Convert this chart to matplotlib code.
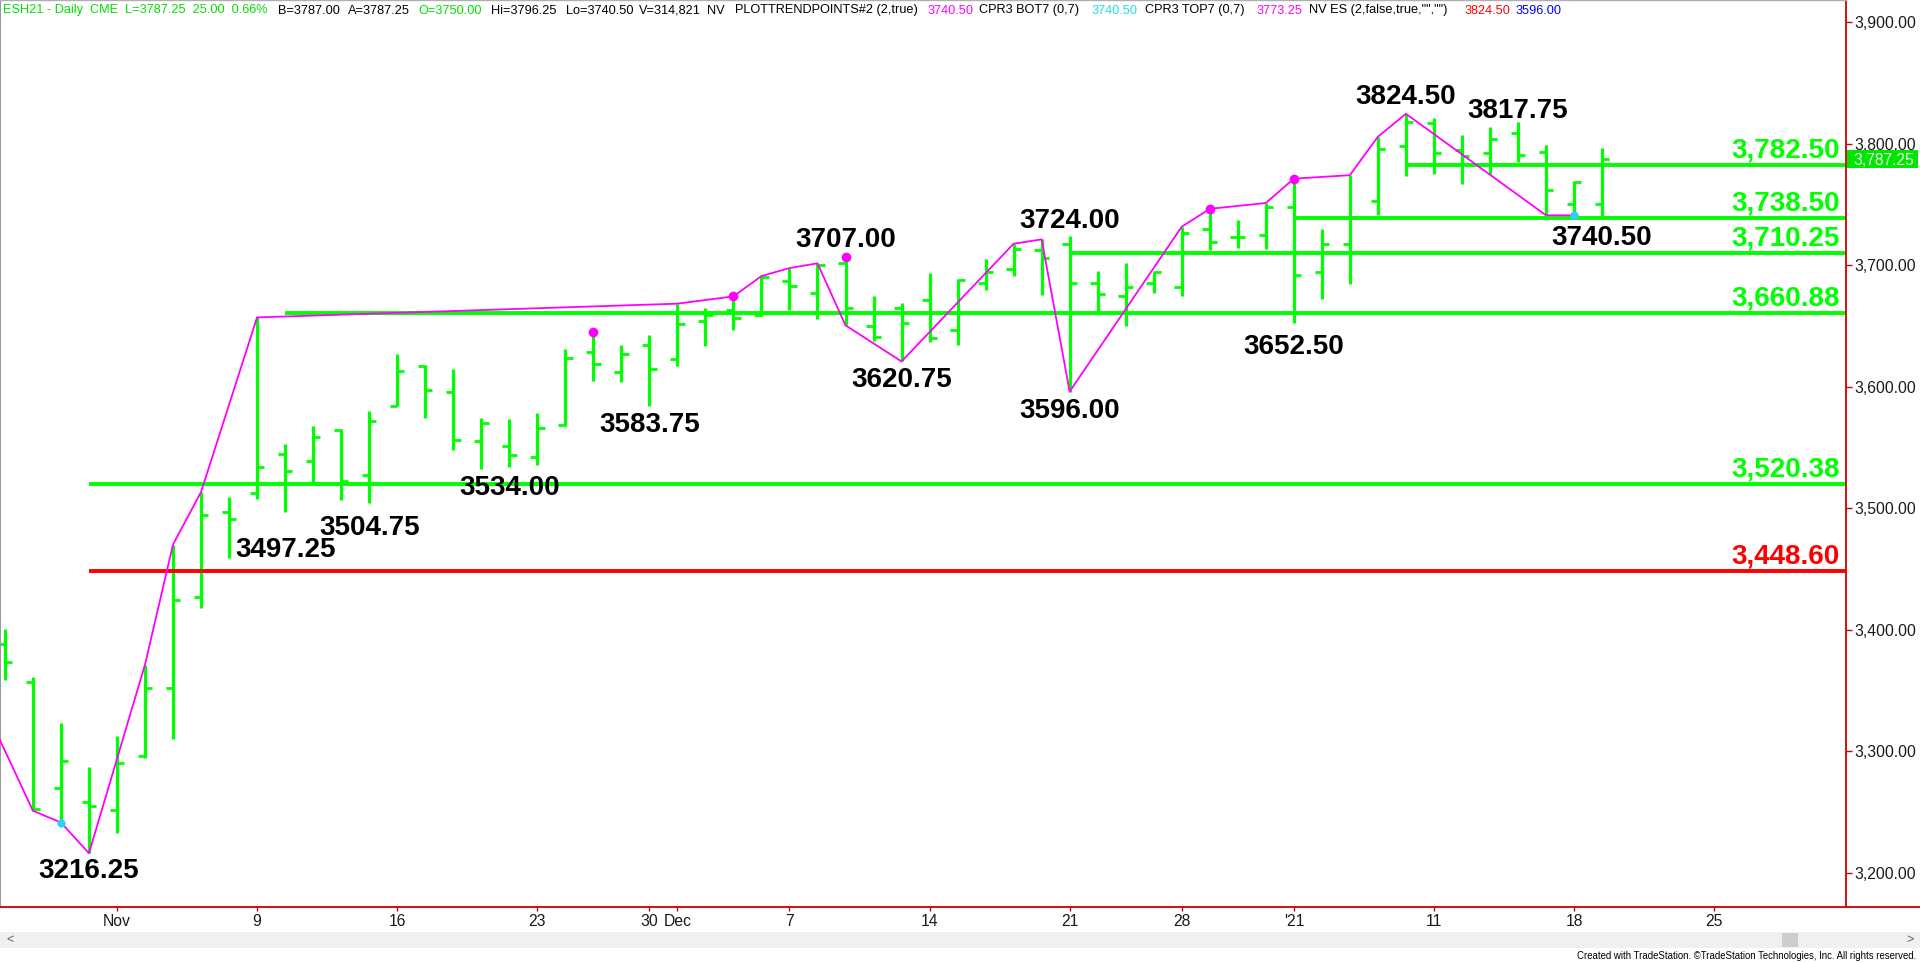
import matplotlib
matplotlib.use("Agg")
import matplotlib.pyplot as plt
from matplotlib import font_manager as fm
from matplotlib.patches import Rectangle
from matplotlib.lines import Line2D
from matplotlib import transforms as mtrans
import numpy as np

# ---------------- data ----------------
bar_dates = ["Oct 27", "Oct 28", "Oct 29", "Oct 30", "Nov 2", "Nov 3", "Nov 4", "Nov 5", "Nov 6",
             "Nov 9", "Nov 10", "Nov 11", "Nov 12", "Nov 13", "Nov 16", "Nov 17", "Nov 18", "Nov 19",
             "Nov 20", "Nov 23", "Nov 24", "Nov 25", "Nov 27", "Nov 30", "Dec 1", "Dec 2", "Dec 3",
             "Dec 4", "Dec 7", "Dec 8", "Dec 9", "Dec 10", "Dec 11", "Dec 14", "Dec 15", "Dec 16",
             "Dec 17", "Dec 18", "Dec 21", "Dec 22", "Dec 23", "Dec 24", "Dec 28", "Dec 29", "Dec 30",
             "Dec 31", "Jan 4", "Jan 5", "Jan 6", "Jan 7", "Jan 8", "Jan 11", "Jan 12", "Jan 13",
             "Jan 14", "Jan 15", "Jan 18", "Jan 19"]

opens = [3388.7, 3356.9, 3270.2, 3258.2, 3252.1, 3295.9, 3351.8, 3427.3, 3496.8, 3512.5,
         3544.5, 3538.9, 3564.5, 3527.7, 3584.5, 3617.3, 3595.4, 3555.0, 3551.2, 3542.2,
         3568.1, 3628.7, 3612.4, 3634.0, 3623.1, 3653.8, 3662.8, 3658.7, 3686.9, 3676.8,
         3702.0, 3650.0, 3664.5, 3671.5, 3646.9, 3685.0, 3697.0, 3712.4, 3717.7, 3684.9,
         3674.5, 3685.2, 3681.7, 3729.7, 3723.1, 3724.4, 3747.6, 3694.2, 3717.5, 3752.6,
         3798.0, 3817.0, 3795.0, 3792.0, 3808.3, 3792.8, 3749.9, 3750.0]
highs = [3400.7, 3360.9, 3323.1, 3286.9, 3312.5, 3371.4, 3470.2, 3513.4, 3508.9, 3657.0,
         3552.7, 3567.5, 3565.4, 3579.9, 3626.8, 3617.8, 3614.5, 3574.1, 3573.6, 3578.5,
         3630.9, 3645.1, 3634.5, 3642.3, 3668.3, 3664.7, 3674.3, 3691.0, 3697.6, 3701.5,
         3707.0, 3675.0, 3668.5, 3693.5, 3688.3, 3705.3, 3717.6, 3721.2, 3724.0, 3695.0,
         3701.7, 3695.0, 3731.6, 3746.3, 3737.2, 3751.1, 3771.1, 3729.7, 3774.0, 3805.6,
         3824.5, 3821.4, 3807.0, 3813.8, 3817.75, 3798.8, 3769.5, 3796.25]
lows = [3358.4, 3251.2, 3241.5, 3216.25, 3233.1, 3294.4, 3310.1, 3417.7, 3459.1, 3507.4,
        3497.25, 3521.1, 3507.0, 3504.75, 3584.0, 3574.4, 3547.7, 3532.7, 3534.0, 3535.9,
        3567.6, 3605.0, 3604.2, 3583.75, 3617.1, 3633.2, 3646.4, 3658.1, 3662.8, 3655.4,
        3650.5, 3637.3, 3620.75, 3636.8, 3634.6, 3679.2, 3691.3, 3675.6, 3596.0, 3662.2,
        3650.2, 3677.2, 3675.0, 3712.4, 3713.7, 3712.9, 3652.5, 3672.4, 3684.5, 3741.0,
        3773.6, 3775.2, 3767.0, 3775.2, 3784.7, 3741.0, 3741.0, 3740.5]
closes = [3373.6, 3252.7, 3292.3, 3255.1, 3290.8, 3351.8, 3424.3, 3494.7, 3490.8, 3534.0,
          3531.0, 3558.3, 3522.6, 3572.2, 3613.2, 3597.6, 3555.9, 3570.3, 3544.1, 3566.2,
          3623.3, 3618.6, 3626.8, 3614.3, 3651.8, 3659.2, 3656.5, 3690.2, 3682.8, 3700.5,
          3665.0, 3641.0, 3652.7, 3640.1, 3688.0, 3694.3, 3713.0, 3705.7, 3685.2, 3676.4,
          3681.7, 3694.2, 3726.3, 3719.1, 3723.1, 3747.6, 3691.6, 3717.7, 3740.0, 3795.3,
          3817.8, 3792.0, 3790.0, 3803.4, 3790.7, 3761.6, 3768.4, 3787.25]

tick_pos = [4, 9, 14, 19, 23, 24, 28, 33, 38, 42, 46, 51, 56, 61]
tick_labels = ["Nov", "9", "16", "23", "30", "Dec", "7", "14", "21", "28", "'21", "11", "18", "25"]

price_ticks = [3200, 3300, 3400, 3500, 3600, 3700, 3800, 3900]

level_prices = [3782.50, 3738.50, 3710.25, 3660.88, 3520.38, 3448.60]
level_start = [50, 46, 38, 10, 3, 3]
level_kind = ["g", "g", "g", "g", "g", "r"]

trend_idx = [-1, 1, 2, 3, 5, 6, 7, 9, 24, 26, 27, 28, 29, 30, 32, 36, 37, 38,
             42, 43, 45, 46, 48, 49, 50, 55, 56]
trend_price = [3350.0, 3251.2, 3241.5, 3216.25, 3371.4, 3470.2, 3513.4, 3657.0, 3668.3,
               3674.3, 3691.0, 3697.6, 3701.5, 3650.5, 3620.75, 3717.6, 3721.2, 3596.0,
               3731.6, 3746.3, 3751.1, 3771.1, 3774.0, 3805.6, 3824.5, 3741.0, 3741.0]

magenta_dot_idx = [21, 26, 30, 43, 46]
cyan_dot_idx = [2, 56]

pivot_idx = [3, 10, 13, 18, 23, 30, 32, 38, 38, 46, 50, 54, 57]
pivot_price = [3216.25, 3497.25, 3504.75, 3534.00, 3583.75, 3707.00, 3620.75, 3724.00,
               3596.00, 3652.50, 3824.50, 3817.75, 3740.50]
pivot_side = ["low", "low", "low", "low", "low", "high", "low", "high", "low", "low",
              "high", "high", "low"]

last_price = 3787.25

# ---------------- style ----------------
GREEN = "#00ff00"
RED = "#ff0000"
AXRED = "#cc0000"
MAG = "#ff00ff"
CYAN = "#33ccff"
W, H = 1920, 963
PX = 0.72  # points per pixel at dpi 100


def has_font(name):
    try:
        fm.findfont(fm.FontProperties(family=name), fallback_to_default=False)
        return True
    except Exception:
        return False


BOLD = ["Liberation Sans", "DejaVu Sans"]
REG = ["Liberation Sans", "DejaVu Sans"]
if has_font("Liberation Sans Narrow"):
    NARROW = ["Liberation Sans Narrow", "DejaVu Sans"]
    HDR_SIZE = 11.2
    CR_SIZE = 8.4
else:
    NARROW = ["Liberation Sans", "DejaVu Sans"]
    HDR_SIZE = 9.2
    CR_SIZE = 6.9

fig = plt.figure(figsize=(W / 100, H / 100), dpi=100)
fig.patch.set_facecolor("white")

AX_R, AX_B = 1846, 907
ax = fig.add_axes([0, 1 - AX_B / H, AX_R / W, AX_B / H])
ax.set_facecolor("white")

# bar i is centred at pixel 4.9 + 28.02*i ; price p at pixel 22 + (3900-p)*1.2157
x_lo = (0 - 4.9) / 28.02
x_hi = (AX_R - 4.9) / 28.02
ax.set_xlim(x_lo, x_hi)
ax.set_ylim(3900 - (AX_B - 22) / 1.2157, 3900 + 22 / 1.2157)

idx = np.arange(len(opens))
ax.vlines(idx, lows, highs, color=GREEN, lw=2.3, zorder=2)
ax.hlines(opens, idx - 0.26, idx, color=GREEN, lw=2.0, zorder=2)
ax.hlines(closes, idx, idx + 0.26, color=GREEN, lw=2.0, zorder=2)

# level lines + labels
for p, s, k in zip(level_prices, level_start, level_kind):
    c = GREEN if k == "g" else RED
    ax.hlines(p, s, x_hi, color=c, lw=2.8, zorder=2)
    ax.annotate(f"{p:,.2f}", xy=(1, p), xycoords=("axes fraction", "data"),
                xytext=(-6 * PX, 7.5 * PX), textcoords="offset points",
                ha="right", va="baseline", fontsize=20, fontweight="bold",
                family=BOLD, color=c, zorder=5)

# trend line and points
ax.plot(trend_idx, trend_price, color=MAG, lw=1.3, zorder=3)
ax.plot(magenta_dot_idx, [highs[i] for i in magenta_dot_idx], "o", color=MAG,
        ms=7, mec="none", zorder=4)
ax.plot(cyan_dot_idx, [lows[i] for i in cyan_dot_idx], "o", color=CYAN,
        ms=6, mec="none", zorder=4)

# pivot labels (pixel distance from price to visible text centre)
label_gap = [15, 35, 22, 18, 16, 20, 16, 18, 16, 21, 20, 14, 19]
for i, p, side, g in zip(pivot_idx, pivot_price, pivot_side, label_gap):
    if side == "high":
        dy = (g - 10) * PX
    else:
        dy = -(g + 10) * PX
    ax.annotate(f"{p:.2f}", xy=(i, p), xytext=(0, dy), textcoords="offset points",
                ha="center", va="baseline", fontsize=20, fontweight="bold",
                family=BOLD, color="black", zorder=6, annotation_clip=False)

# axes / ticks
ax.yaxis.tick_right()
ax.set_yticks(price_ticks)
ax.set_yticklabels([f"{v:,.2f}" for v in price_ticks])
ax.set_xticks(tick_pos)
ax.set_xticklabels(tick_labels)
ax.tick_params(axis="y", direction="out", length=4, width=1, color=AXRED,
               pad=2, labelsize=11.3, labelcolor="#1a1a1a")
ax.tick_params(axis="x", direction="out", length=3.2, width=1, color=AXRED,
               pad=1.5, labelsize=11.3, labelcolor="#1a1a1a")
for lab in ax.get_xticklabels() + ax.get_yticklabels():
    lab.set_family(REG)

ax.spines["left"].set_color("#9a9a9a")
ax.spines["left"].set_linewidth(1.5)
ax.spines["top"].set_color("#b0b0b0")
ax.spines["top"].set_linewidth(1.0)
ax.spines["right"].set_color(AXRED)
ax.spines["right"].set_linewidth(1.3)
ax.spines["bottom"].set_visible(False)

fig.add_artist(Line2D([0, 1], [1 - AX_B / H] * 2, transform=fig.transFigure,
                      color=AXRED, lw=1.3))

# last price box on the axis
bt = mtrans.blended_transform_factory(fig.transFigure, ax.transData)
fig.add_artist(Rectangle((1847 / W, last_price - 7.4), 71 / W, 14.8, transform=bt,
                         facecolor="#00e600", edgecolor="none", zorder=5))
fig.text(1853 / W, last_price, f"{last_price:,.2f}", transform=bt, ha="left",
         va="center_baseline", fontsize=11.3, family=REG, color="#e8ffe8", zorder=6)

# header line (x = left edge in pixels)
hdr = [
    ("ESH21 - Daily  CME  L=3787.25  25.00  0.66%", 3, "#00e000"),
    ("B=3787.00", 278, "black"),
    ("A=3787.25", 348, "black"),
    ("O=3750.00", 418, "#00e000"),
    ("Hi=3796.25", 491, "black"),
    ("Lo=3740.50", 566, "black"),
    ("V=314,821", 639, "black"),
    ("NV", 707, "black"),
    ("PLOTTRENDPOINTS#2 (2,true)", 735, "black"),
    ("3740.50", 928, MAG),
    ("CPR3 BOT7 (0,7)", 979, "black"),
    ("3740.50", 1092, "#22dddd"),
    ("CPR3 TOP7 (0,7)", 1145, "black"),
    ("3773.25", 1257, MAG),
    ('NV ES (2,false,true,"","")', 1309, "black"),
    ("3824.50", 1465, RED),
    ("3596.00", 1516, "#0000ff"),
]
for t, x, c in hdr:
    fig.text(x / W, 1 - 10.5 / H, t, ha="left", va="center", fontsize=HDR_SIZE,
             family=NARROW, color=c)

# scrollbar & footer
fig.add_artist(Rectangle((0, 1 - 948 / H), 1, 16 / H, transform=fig.transFigure,
                         facecolor="#f0f0f0", edgecolor="none"))
fig.add_artist(Rectangle((1782 / W, 1 - 947 / H), 16 / W, 14 / H, transform=fig.transFigure,
                         facecolor="#cdcdcd", edgecolor="none"))
fig.text(6 / W, 1 - 940 / H, "<", ha="left", va="center", fontsize=9, color="#606060",
         family=REG)
fig.text(1914 / W, 1 - 940 / H, ">", ha="right", va="center", fontsize=9, color="#606060",
         family=REG)
fig.text(1916 / W, 1 - 956 / H,
         "Created with TradeStation. \u00a9TradeStation Technologies, Inc. All rights reserved.",
         ha="right", va="center", fontsize=CR_SIZE, family=NARROW, color="black")

fig.savefig("out.png", dpi=100, facecolor="white")
